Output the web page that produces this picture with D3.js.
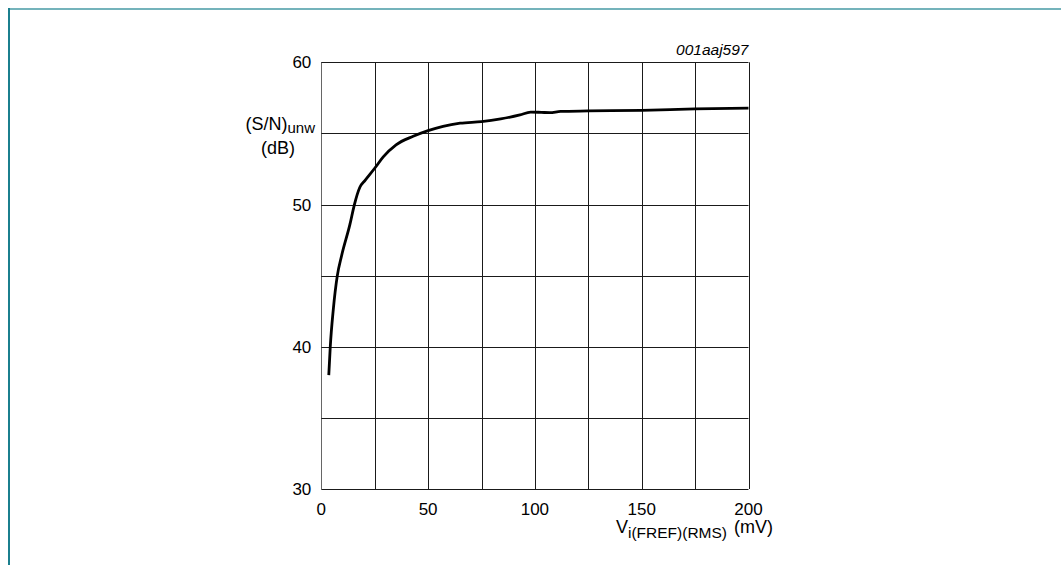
<!DOCTYPE html>
<html>
<head>
<meta charset="utf-8">
<script src="https://cdn.jsdelivr.net/npm/d3@7"></script>
<style>
  body { margin: 0; background: #fff; }
  svg text { font-family: "Liberation Sans", Arial, sans-serif; fill: #000; }
</style>
</head>
<body>
<div id="chart"></div>
<script>
// curve: Vi(FREF)(RMS) in mV vs (S/N)unw in dB
const voltage = [3.5, 4.2, 5.6, 7.5, 9.5, 13.4, 15.5, 18, 20.5, 25, 29, 35, 43, 50, 57, 65, 75, 84, 93, 98, 103, 107, 112, 125, 150, 175, 200];
const snr     = [38.0, 40.0, 42.6, 45.0, 46.4, 48.6, 50.0, 51.2, 51.7, 52.55, 53.35, 54.2, 54.8, 55.2, 55.5, 55.72, 55.83, 56.02, 56.3, 56.5, 56.48, 56.46, 56.55, 56.58, 56.62, 56.72, 56.78];

const xTickLabels = [0, 50, 100, 150, 200];
const yTickLabels = [30, 40, 50, 60];
const xGrid = [0, 25, 50, 75, 100, 125, 150, 175, 200];
const yGrid = [30, 35, 40, 45, 50, 55, 60];

const width = 1061, height = 565;
const margin = { top: 62.3, right: 312.5, bottom: 76, left: 321.3 };

const svg = d3.select("#chart").append("svg")
  .attr("width", width)
  .attr("height", height);

// page frame
svg.append("line").attr("x1", 9).attr("x2", width).attr("y1", 9).attr("y2", 9)
  .attr("stroke", "#74b3bb").attr("stroke-width", 2);
svg.append("line").attr("x1", 9).attr("x2", 9).attr("y1", 8).attr("y2", height)
  .attr("stroke", "#1b7f8e").attr("stroke-width", 2);

const x = d3.scaleLinear().domain([0, 200]).range([margin.left, width - margin.right]);
const y = d3.scaleLinear().domain([30, 60]).range([height - margin.bottom, margin.top]);

// grid
const grid = svg.append("g").attr("stroke", "#1a1a1a").attr("stroke-width", 1);
grid.selectAll(".vx").data(xGrid).join("line")
  .attr("x1", d => Math.round(x(d)) + 0.5).attr("x2", d => Math.round(x(d)) + 0.5)
  .attr("y1", y(30)).attr("y2", y(60))
  .attr("stroke", d => d === 0 ? "#666" : null);
grid.selectAll(".hy").data(yGrid).join("line")
  .attr("y1", d => Math.round(y(d)) + 0.5).attr("y2", d => Math.round(y(d)) + 0.5)
  .attr("x1", x(0)).attr("x2", x(200));

// tick labels
svg.append("g").selectAll("text").data(yTickLabels).join("text")
  .attr("x", x(0) - 10).attr("y", d => y(d) + 6)
  .attr("text-anchor", "end").attr("font-size", 17).text(d => d);

svg.append("g").selectAll("text").data(xTickLabels).join("text")
  .attr("x", d => x(d)).attr("y", 515)
  .attr("text-anchor", "middle").attr("font-size", 17).text(d => d);

// axis titles
const yl = svg.append("text").attr("x", 315).attr("y", 130)
  .attr("text-anchor", "end").attr("font-size", 18);
yl.append("tspan").text("(S/N)");
yl.append("tspan").attr("font-size", 15).attr("dy", 3).text("unw");
svg.append("text").attr("x", 278).attr("y", 154)
  .attr("text-anchor", "middle").attr("font-size", 18).text("(dB)");

const xl = svg.append("text").attr("x", 616).attr("y", 533).attr("font-size", 18);
xl.append("tspan").text("V");
xl.append("tspan").attr("font-size", 15.5).attr("dy", 5).text("i(FREF)(RMS)");
xl.append("tspan").attr("dy", -5).attr("dx", 2).text(" (mV)");

svg.append("text").attr("x", x(200)).attr("y", 55)
  .attr("text-anchor", "end").attr("font-size", 15.5).attr("font-style", "italic")
  .text("001aaj597");

// curve
const pts = voltage.map((v, i) => [v, snr[i]]);
svg.append("path").datum(pts)
  .attr("fill", "none").attr("stroke", "#000").attr("stroke-width", 2.8)
  .attr("stroke-linejoin", "round")
  .attr("d", d3.line().x(d => x(d[0])).y(d => y(d[1])).curve(d3.curveMonotoneX));
</script>
</body>
</html>
